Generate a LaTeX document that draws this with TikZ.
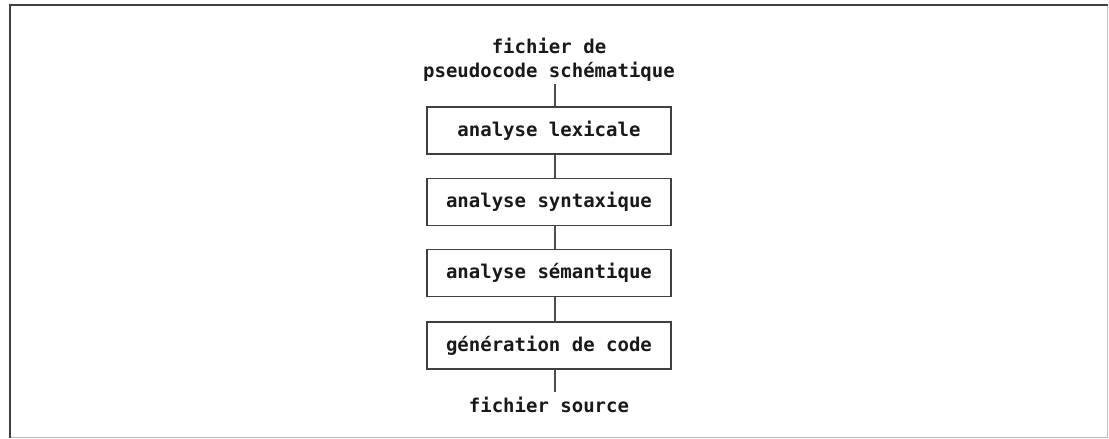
\documentclass[tikz,border=0pt]{standalone}
\usepackage{fontspec}
\setmonofont{DejaVu Sans Mono}
\begin{document}
\begin{tikzpicture}[x=1pt,y=-1pt,
  lbl/.style={inner sep=0pt, font=\ttfamily\bfseries\fontsize{19}{24}\selectfont, text=black!90},
  stage/.style={lbl, draw=black!75, line width=1.8pt, minimum width=244pt, minimum height=47pt},
  conn/.style={draw=black!70, line width=1.5pt}]
\useasboundingbox (0,0) rectangle (1109,439);
% outer frame: dark left and top edges, light right and bottom edges
\draw[black!25, line width=1pt] (1107.5,5) -- (1107.5,437.5) -- (10,437.5);
\draw[black!75, line width=2.6pt] (10,437.5) -- (10,5) -- (1107.5,5);

% compiler stages
\node[lbl, align=center, anchor=south] (src) at (549,82) {fichier de\\pseudocode schématique};
\node[stage] (lex) at (549,130.5) {analyse lexicale};
\node[stage] (syn) at (549,202) {analyse syntaxique};
\node[stage] (sem) at (549,273) {analyse sémantique};
\node[stage] (gen) at (549,345.5) {génération de code};
\node[lbl, anchor=base] (out) at (549,412) {fichier source};

% links between stages
\draw[conn] ([xshift=6pt,yshift=-2pt]src.south) -- ([xshift=6pt]lex.north);
\draw[conn] ([xshift=6pt]lex.south) -- ([xshift=6pt]syn.north);
\draw[conn] ([xshift=6pt]syn.south) -- ([xshift=6pt]sem.north);
\draw[conn] ([xshift=6pt]sem.south) -- ([xshift=6pt]gen.north);
\draw[conn] ([xshift=6pt]gen.south) -- ([xshift=6pt,yshift=4pt]out.north);
\end{tikzpicture}
\end{document}
